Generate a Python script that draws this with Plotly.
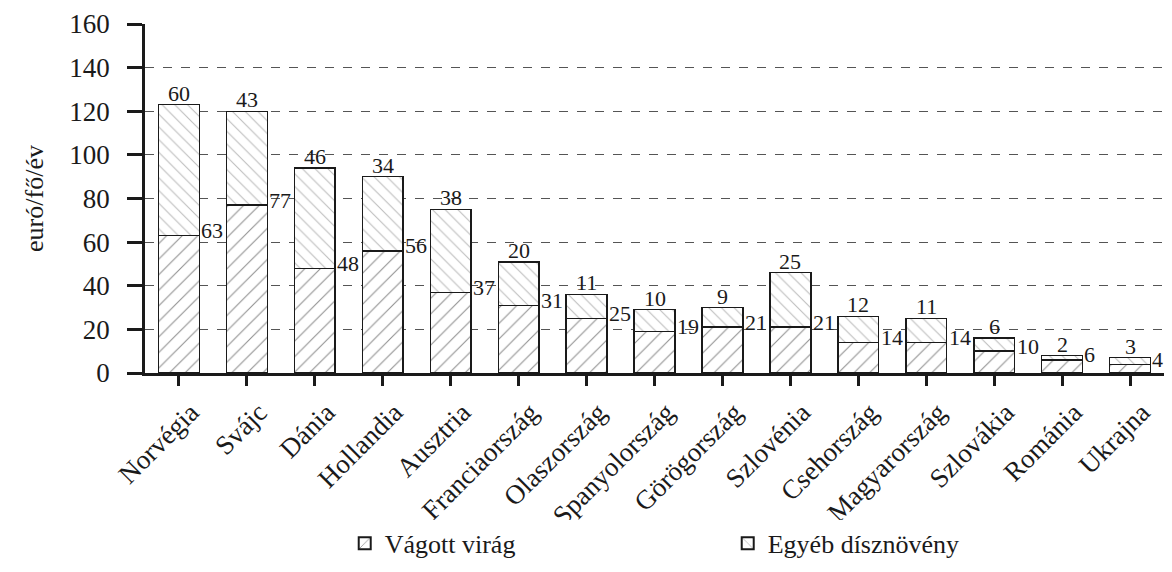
import plotly.graph_objects as go

categories = ["Norvégia", "Svájc", "Dánia", "Hollandia", "Ausztria", "Franciaország",
              "Olaszország", "Spanyolország", "Görögország", "Szlovénia", "Csehország",
              "Magyarország", "Szlovákia", "Románia", "Ukrajna"]
vagott = [63, 77, 48, 56, 37, 31, 25, 19, 21, 21, 14, 14, 10, 6, 4]
egyeb = [60, 43, 46, 34, 38, 20, 11, 10, 9, 25, 12, 11, 6, 2, 3]
series_names = ["Vágott virág", "Egyéb dísznövény"]
y_ticks = [0, 20, 40, 60, 80, 100, 120, 140, 160]

FONT = "Liberation Serif"
INK = "#1a1a1a"
x_idx = list(range(len(categories)))
BW = 0.6

fig = go.Figure()
fig.add_trace(go.Bar(
    x=x_idx, y=vagott, name=series_names[0], width=BW,
    marker=dict(color="white", line=dict(color=INK, width=1.5),
                pattern=dict(shape="/", fgcolor="#222", bgcolor="white", size=11, solidity=0.1)),
))
fig.add_trace(go.Bar(
    x=x_idx, y=egyeb, name=series_names[1], width=BW,
    marker=dict(color="white", line=dict(color=INK, width=1.5),
                pattern=dict(shape="\\", fgcolor="#7a7a7a", bgcolor="white", size=9, solidity=0.12)),
))

annotations = []
for i, (a, b) in enumerate(zip(vagott, egyeb)):
    annotations.append(dict(x=i + BW / 2, y=a, text=str(a), showarrow=False,
                            xanchor="left", yanchor="middle", xshift=0, yshift=5,
                            font=dict(family=FONT, size=22, color=INK)))
    annotations.append(dict(x=i, y=a + b, text=str(b), showarrow=False,
                            xanchor="center", yanchor="bottom", yshift=-3,
                            font=dict(family=FONT, size=22, color=INK)))

fig.update_layout(
    barmode="stack",
    width=1156, height=556,
    margin=dict(l=137, r=0, t=16, b=191, autoexpand=False),
    plot_bgcolor="white", paper_bgcolor="white",
    font=dict(family=FONT, size=22, color=INK),
    annotations=annotations,
    showlegend=True,
    legend=dict(orientation="h", x=0.196, xanchor="left", y=-0.488, yanchor="middle",
                font=dict(family=FONT, size=26, color=INK),
                entrywidth=338, entrywidthmode="pixels", traceorder="normal",
                itemsizing="constant"),
    bargap=0.4,
)
fig.update_yaxes(
    range=[0, 160], tickvals=y_ticks, showgrid=True, gridcolor="#555", griddash="dash",
    gridwidth=1.2, showline=True, linecolor=INK, linewidth=2.5,
    ticks="outside", ticklen=15, tickwidth=2.5, tickcolor=INK, ticklabelstandoff=12,
    tickfont=dict(family=FONT, size=27, color=INK),
    title=dict(text="euró/fő/év", font=dict(family=FONT, size=26, color=INK), standoff=19),
    zeroline=False, automargin=False,
)
fig.update_xaxes(
    tickmode="array", tickvals=x_idx, ticktext=categories, tickangle=-45,
    range=[-0.5, len(categories) - 0.5], tickson="boundaries",
    showline=True, linecolor=INK, linewidth=2.5,
    ticks="outside", ticklen=10, tickwidth=2.5, tickcolor=INK,
    ticklabelstandoff=0, ticklabelshift=12,
    tickfont=dict(family=FONT, size=27, color=INK), showgrid=False, automargin=False,
)

fig.write_html("out.html")
